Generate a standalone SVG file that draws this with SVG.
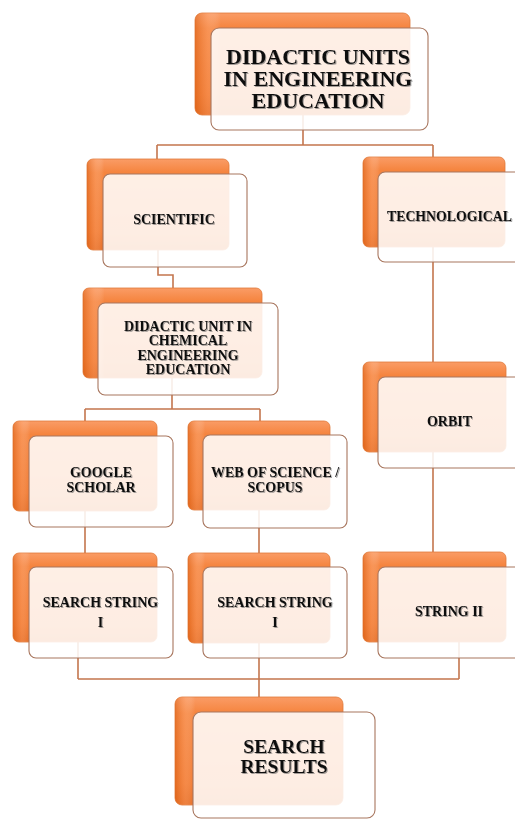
<svg xmlns="http://www.w3.org/2000/svg" width="515" height="821" viewBox="0 0 515 821">
<defs>
<linearGradient id="org" x1="0" y1="0" x2="0" y2="1">
<stop offset="0" stop-color="#FA9C66"/>
<stop offset="0.15" stop-color="#F5843E"/>
<stop offset="0.8" stop-color="#F07428"/>
<stop offset="1" stop-color="#E4661A"/>
</linearGradient>
<linearGradient id="orgH" x1="0" y1="0" x2="1" y2="0">
<stop offset="0" stop-color="#D85F14" stop-opacity="0.5"/>
<stop offset="0.06" stop-color="#FFB080" stop-opacity="0.35"/>
<stop offset="0.12" stop-color="#FFFFFF" stop-opacity="0"/>
<stop offset="1" stop-color="#FFFFFF" stop-opacity="0"/>
</linearGradient>
<filter id="ts" x="-10%" y="-30%" width="120%" height="160%">
<feDropShadow dx="1" dy="1" stdDeviation="0.6" flood-color="#555" flood-opacity="0.55"/>
</filter>
</defs>
<style>
.back{fill:url(#org);stroke:#E07A3A;stroke-width:0.8}
.hl{fill:url(#orgH)}
.front{fill:#FFFFFF;fill-opacity:0.87;stroke:#A8765E;stroke-width:1.1}
.lbl{font-family:"Liberation Serif","Times New Roman",serif;font-weight:bold;fill:#111;text-anchor:middle;filter:url(#ts)}
.s14{font-size:14px}
.s22{font-size:22px}
.s19{font-size:19.5px}
.conn{fill:none;stroke:#C4764E;stroke-width:1.6}
</style>

<g id="connectors">
<path class="conn" d="M303,115 V145 M157,145 H433 M157,145 V159 M433,145 V157"/>
<path class="conn" d="M158,250 V275 H173 V288"/>
<path class="conn" d="M172,378 V409 M85,409 H260 M85,409 V421 M260,409 V421"/>
<path class="conn" d="M85,511 V553 M259,510 V553"/>
<path class="conn" d="M433,247 V362 M433,452 V552"/>
<path class="conn" d="M78,642 V679 M259,643 V679 M459,642 V679 M78,679 H459 M259,679 V697"/>
</g>

<g id="n-top">
<rect class="back" x="195" y="13" width="215" height="102" rx="7"/>
<rect class="hl" x="195" y="13" width="215" height="102" rx="7"/>
<rect class="front" x="211" y="28" width="217" height="102" rx="8"/>
<text class="lbl s22" x="318" y="64">DIDACTIC UNITS</text>
<text class="lbl s22" x="318" y="85.5">IN ENGINEERING</text>
<text class="lbl s22" x="318" y="108">EDUCATION</text>
</g>

<g id="n-scientific">
<rect class="back" x="87" y="159" width="142" height="91" rx="6"/>
<rect class="hl" x="87" y="159" width="142" height="91" rx="6"/>
<rect class="front" x="103" y="174" width="144" height="93" rx="7"/>
<text class="lbl s14" x="174" y="224">SCIENTIFIC</text>
</g>

<g id="n-technological">
<rect class="back" x="363" y="157" width="142" height="90" rx="6"/>
<rect class="hl" x="363" y="157" width="142" height="90" rx="6"/>
<rect class="front" x="378" y="172" width="144" height="90" rx="7"/>
<text class="lbl s14" x="449.5" y="221" textLength="125" lengthAdjust="spacingAndGlyphs">TECHNOLOGICAL</text>
</g>

<g id="n-chemical">
<rect class="back" x="83" y="288" width="179" height="90" rx="6"/>
<rect class="hl" x="83" y="288" width="179" height="90" rx="6"/>
<rect class="front" x="98" y="303" width="180" height="92" rx="7"/>
<text class="lbl s14" x="188" y="331">DIDACTIC UNIT IN</text>
<text class="lbl s14" x="188" y="345">CHEMICAL</text>
<text class="lbl s14" x="188" y="360">ENGINEERING</text>
<text class="lbl s14" x="188" y="373.5">EDUCATION</text>
</g>

<g id="n-google">
<rect class="back" x="13" y="421" width="144" height="90" rx="6"/>
<rect class="hl" x="13" y="421" width="144" height="90" rx="6"/>
<rect class="front" x="29" y="436" width="144" height="91" rx="7"/>
<text class="lbl s14" x="101" y="477">GOOGLE</text>
<text class="lbl s14" x="101" y="492">SCHOLAR</text>
</g>

<g id="n-wos">
<rect class="back" x="188" y="421" width="142" height="89" rx="6"/>
<rect class="hl" x="188" y="421" width="142" height="89" rx="6"/>
<rect class="front" x="203" y="435" width="144" height="93" rx="7"/>
<text class="lbl s14" x="275" y="477">WEB OF SCIENCE /</text>
<text class="lbl s14" x="275" y="492">SCOPUS</text>
</g>

<g id="n-orbit">
<rect class="back" x="363" y="362" width="143" height="90" rx="6"/>
<rect class="hl" x="363" y="362" width="143" height="90" rx="6"/>
<rect class="front" x="378" y="377" width="144" height="91" rx="7"/>
<text class="lbl s14" x="449.5" y="426">ORBIT</text>
</g>

<g id="n-ss1">
<rect class="back" x="13" y="553" width="144" height="89" rx="6"/>
<rect class="hl" x="13" y="553" width="144" height="89" rx="6"/>
<rect class="front" x="29" y="567" width="144" height="91" rx="7"/>
<text class="lbl s14" x="100.5" y="607">SEARCH STRING</text>
<text class="lbl s14" x="100.5" y="627">I</text>
</g>

<g id="n-ss2">
<rect class="back" x="188" y="553" width="142" height="90" rx="6"/>
<rect class="hl" x="188" y="553" width="142" height="90" rx="6"/>
<rect class="front" x="203" y="567" width="144" height="91" rx="7"/>
<text class="lbl s14" x="275" y="607">SEARCH STRING</text>
<text class="lbl s14" x="275" y="627">I</text>
</g>

<g id="n-string2">
<rect class="back" x="363" y="552" width="143" height="90" rx="6"/>
<rect class="hl" x="363" y="552" width="143" height="90" rx="6"/>
<rect class="front" x="378" y="567" width="144" height="91" rx="7"/>
<text class="lbl s14" x="449" y="616">STRING II</text>
</g>

<g id="n-results">
<rect class="back" x="175" y="697" width="168" height="108" rx="7"/>
<rect class="hl" x="175" y="697" width="168" height="108" rx="7"/>
<rect class="front" x="193" y="712" width="182" height="106" rx="8"/>
<text class="lbl s19" x="284" y="753">SEARCH</text>
<text class="lbl s19" x="284" y="773">RESULTS</text>
</g>
</svg>
